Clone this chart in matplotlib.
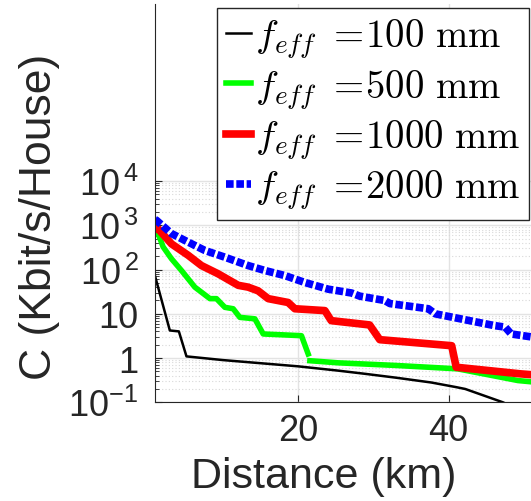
import numpy as np
import matplotlib
matplotlib.use("Agg")
import matplotlib.pyplot as plt
from matplotlib.ticker import FixedLocator, NullFormatter

plt.rcParams['font.family'] = ['Liberation Sans', 'DejaVu Sans']
plt.rcParams['mathtext.fontset'] = 'custom'
plt.rcParams['mathtext.rm'] = 'Liberation Sans'
plt.rcParams['mathtext.it'] = 'Liberation Sans:italic'

# Données (distance en km, capacité en Kbit/s/House)
km_100 = [1.0, 2.97, 4.17, 5.18, 10.0, 20.0, 25.3, 28.9, 33.0, 37.7, 41.0, 42.2, 47.2, 51.0]
c_100 = [72, 4.2, 4.0, 1.09, 0.9, 0.65, 0.52, 0.44, 0.36, 0.28, 0.22, 0.2, 0.1, 0.05]

km_500 = [1.0, 1.42, 2.08, 3.19, 4.52, 6.29, 8.29, 9.16, 10.28, 11.38, 12.27, 14.26, 15.37,
          20.45, 21.34, 21.45, 21.57, 25.3, 33.0, 41.2, 49.2, 51.0]
c_500 = [650, 640, 325, 175, 95, 40, 22, 22, 14, 13, 8.3, 7.7, 3.5,
         3.2, 1.24, np.nan, 0.87, 0.78, 0.68, 0.57, 0.31, 0.29]

km_1000 = [1.0, 1.42, 3.19, 5.4, 7.17, 9.39, 12.05, 13.37, 14.7, 16.03, 18.68, 19.57, 23.56,
           24.4, 29.5, 30.85, 40.4, 41.0, 49.5, 51.0]
c_1000 = [830, 830, 380, 210, 123, 80, 44, 40, 33, 22, 18, 13, 11.8,
          7.0, 5.6, 2.6, 1.9, 0.62, 0.44, 0.42]

km_2000 = [1.0, 1.2, 3.19, 5.4, 7.62, 10.28, 13.37, 15.6, 18.25, 20.9, 24.0, 27.1, 28.2,
           31.5, 32.2, 37.3, 38.2, 46.1, 47.5, 48.3, 51.0]
c_2000 = [1350, 1290, 650, 417, 270, 190, 123, 95, 73, 51, 36, 29.5, 25,
          20, 17, 13, 10, 5.4, 5.0, 3.5, 3.0]

fig = plt.figure(figsize=(5.31, 5.02), dpi=100)
ax = fig.add_axes([155 / 531, 1 - 403.3 / 502, (531.5 - 155) / 531, (403.3 - 5) / 502])

l1, = ax.plot(km_100, c_100, '-', color='black', lw=1.8)
l2, = ax.plot(km_500, c_500, '-', color='#00ff00', lw=4)
l3, = ax.plot(km_1000, c_1000, '-', color='red', lw=5.5)
l4, = ax.plot(km_2000, c_2000, color='blue', lw=5.5, linestyle=(0, (1, 0.35)))

ax.set_yscale('log')
ax.set_xlim(1, 51)
ax.set_ylim(0.1, 1e8)

# Graduations et grille
ax.yaxis.set_major_locator(FixedLocator([0.1, 1, 10, 100, 1e3, 1e4]))
ax.set_yticklabels([r'10$^{-1}$', '1', '10', r'10$^{\,2}$', r'10$^{\,3}$', r'10$^{\,4}$'])
minor = [k * 10.0 ** n for n in range(-1, 4) for k in range(2, 10)]
ax.yaxis.set_minor_locator(FixedLocator(minor))
ax.yaxis.set_minor_formatter(NullFormatter())
ax.set_xticks([20, 40])
ax.tick_params(axis='both', which='both', direction='in', colors='#262626', labelsize=26)
ax.tick_params(axis='y', which='major', length=5, pad=12)
ax.tick_params(axis='y', which='minor', length=3)
ax.tick_params(axis='x', which='major', length=5, pad=8)

ax.grid(True, which='major', color='#e3e3e3', lw=1, ls='-')
ax.yaxis.grid(True, which='minor', color='#d8d8d8', lw=0.8, ls=(0, (1, 2)))
ax.set_axisbelow(True)

for s in ['top', 'right']:
    ax.spines[s].set_visible(False)
for s in ['left', 'bottom']:
    ax.spines[s].set_color('#262626')

ax.set_xlabel('Distance (km)', fontsize=31, color='#262626')
ax.set_ylabel('C (Kbit/s/House)', fontsize=32, color='#262626')
ax.xaxis.set_label_coords(0.449, -0.136)
ax.yaxis.set_label_coords(-0.252, 0.469)

labels = [r'$f_{eff}\ =\!100\ \mathrm{mm}$', r'$f_{eff}\ =\!500\ \mathrm{mm}$',
          r'$f_{eff}\ =\!1000\ \mathrm{mm}$', r'$f_{eff}\ =\!2000\ \mathrm{mm}$']
leg = ax.legend([l1, l2, l3, l4], labels, loc='upper left',
                bbox_to_anchor=(217 / 531, 1 - 9 / 502), bbox_transform=fig.transFigure,
                fontsize=28, handlelength=0.65, handletextpad=0.1, labelspacing=0.17,
                borderpad=0.22, borderaxespad=0, fancybox=False, framealpha=1,
                edgecolor='#262626')
leg.get_frame().set_linewidth(1.0)
for t in leg.get_texts():
    t.set_math_fontfamily('cm')

fig.savefig('out.png', dpi=100)
